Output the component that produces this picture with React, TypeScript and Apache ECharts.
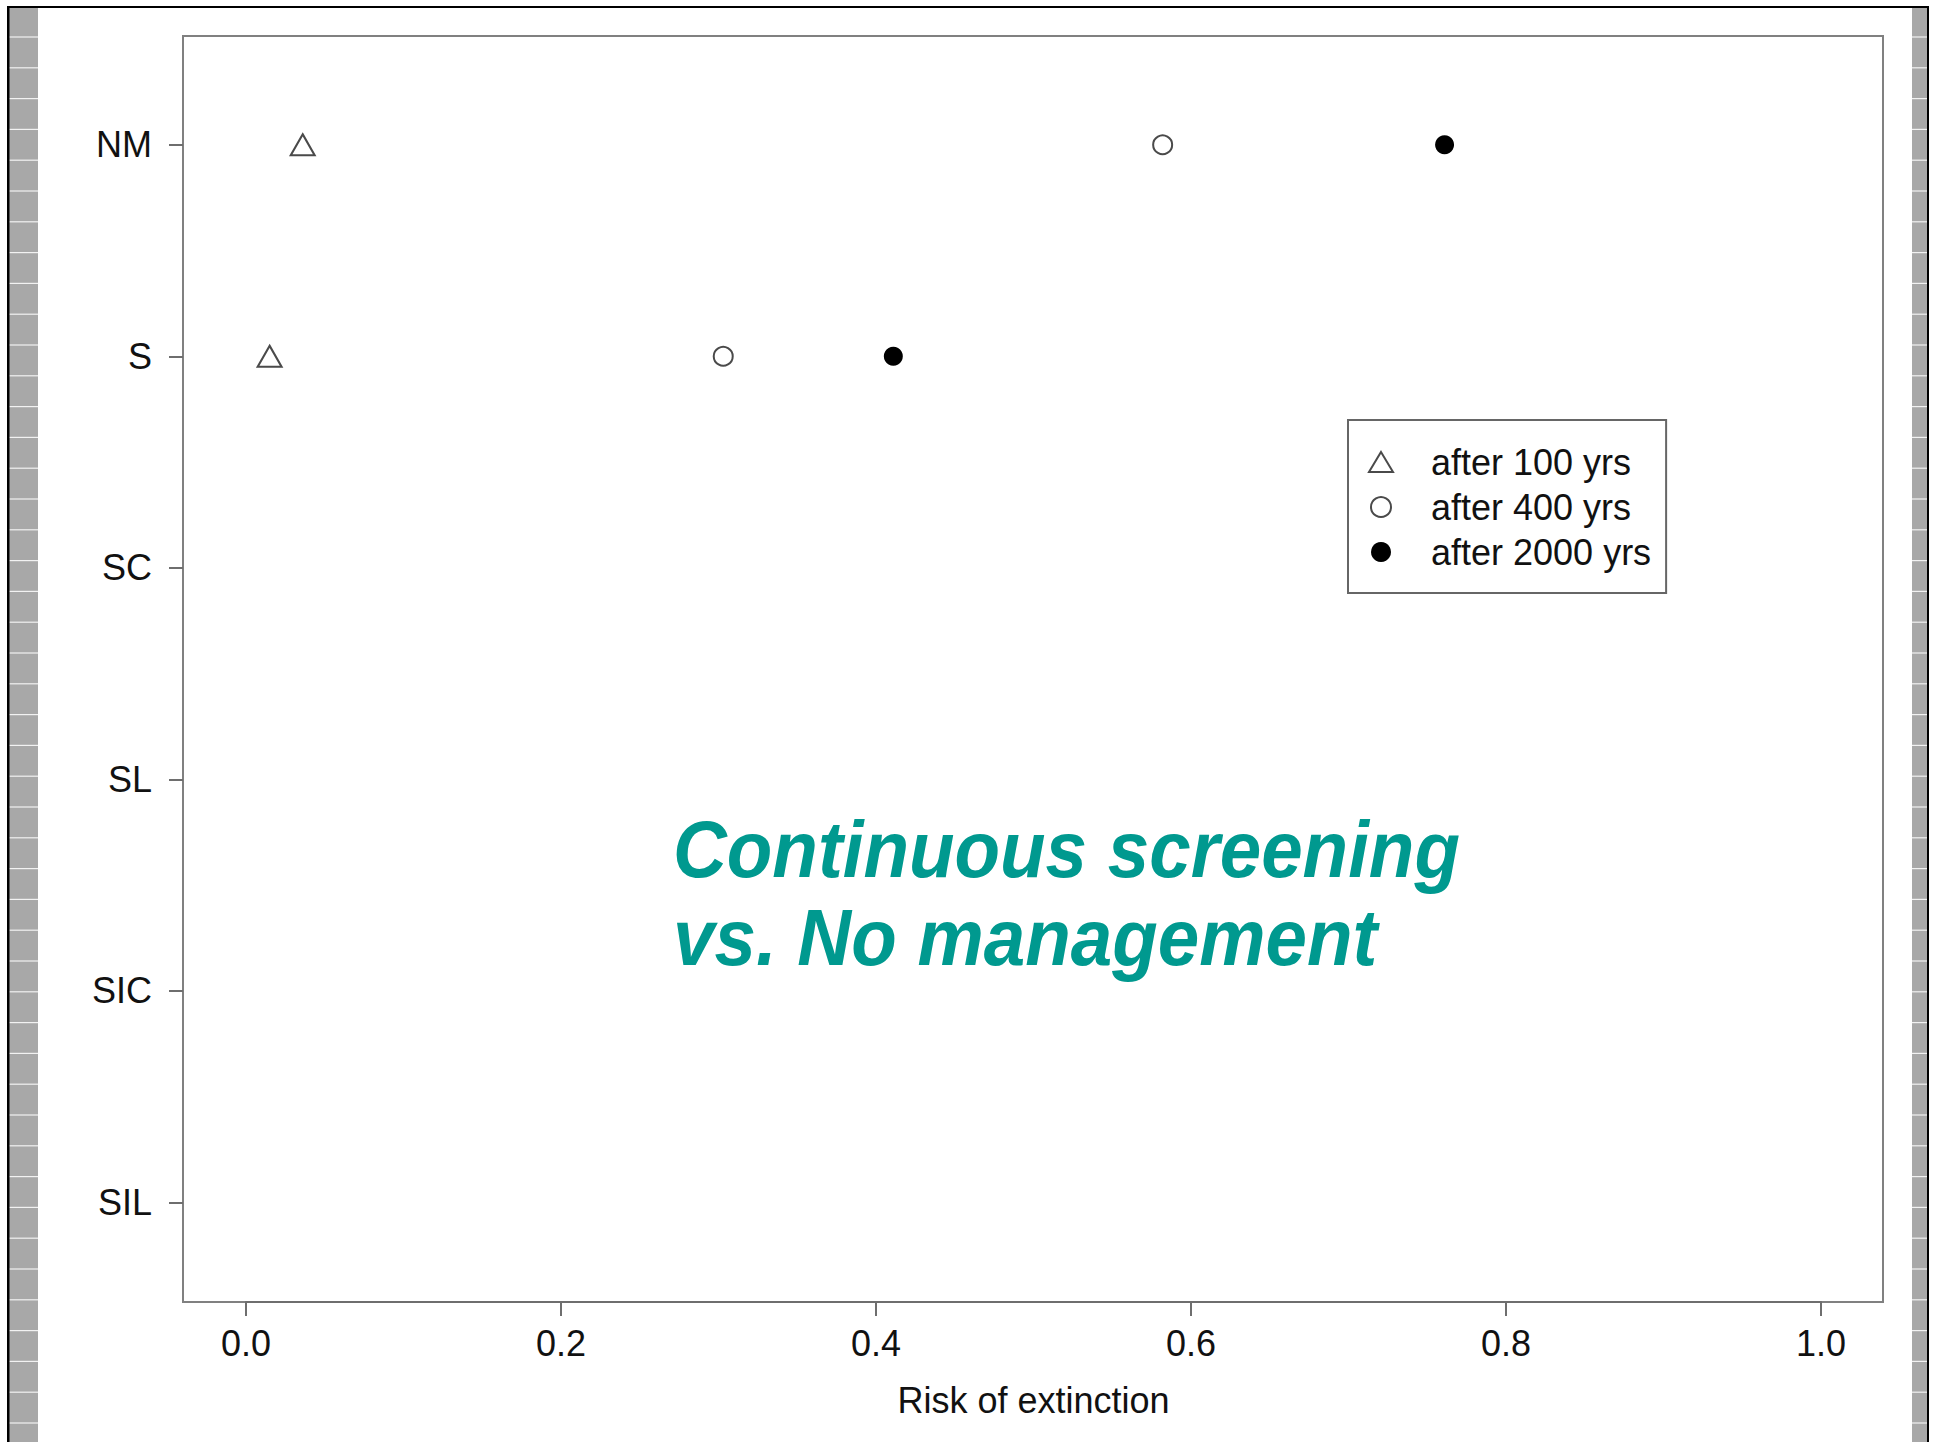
import React, { useEffect, useRef } from "react";
import * as echarts from "echarts";

// Management scenarios, top to bottom
const categories = ["NM", "S", "SC", "SL", "SIC", "SIL"];
// Scenarios that have simulated results
const scoredCategories = ["NM", "S"];
const seriesNames = ["after 100 yrs", "after 400 yrs", "after 2000 yrs"];
// Risk of extinction per scored scenario
const after100 = [0.036, 0.015];
const after400 = [0.582, 0.303];
const after2000 = [0.761, 0.411];
// Risk axis range and tick step
const riskMin = 0;
const riskMax = 1;
const riskStep = 0.2;
const titleLines = ["Continuous screening", "vs. No management"];
const axisName = "Risk of extinction";

const FONT = "'Liberation Sans', Arial, Helvetica, sans-serif";
const TEAL = "#00998f";

function toPoints(values: number[]) {
  return scoredCategories.map((c, i) => [values[i], c]);
}

function stripes(x: number, w: number) {
  const items: any[] = [
    { type: "rect", shape: { x, y: 7, width: w, height: 1440 }, style: { fill: "#a8a8a8" }, silent: true },
  ];
  for (let y = 37; y < 1442; y += 30.8) {
    items.push({
      type: "line",
      shape: { x1: x, y1: y, x2: x + w, y2: y },
      style: { stroke: "#f2f2f2", lineWidth: 1.2 },
      silent: true,
    });
  }
  return items;
}

export default function App() {
  const ref = useRef<HTMLDivElement>(null);

  useEffect(() => {
    if (!ref.current) return;
    const chart = echarts.init(ref.current, undefined, { renderer: "svg" });

    const hollow = { color: "#ffffff", borderColor: "#4a4a4a", borderWidth: 2, opacity: 1 };
    const solid = { color: "#000000", borderColor: "#000000", borderWidth: 0, opacity: 1 };

    chart.setOption({
      animation: false,
      backgroundColor: "#ffffff",
      grid: [
        // plotting region holding the axes
        { left: 246, top: 39, width: 1575, height: 1269, show: false },
        // plot frame
        {
          left: 183,
          top: 36,
          width: 1700,
          height: 1266,
          show: true,
          borderColor: "#808080",
          borderWidth: 2,
          backgroundColor: "transparent",
        },
      ],
      xAxis: [
        {
          type: "value",
          gridIndex: 0,
          min: riskMin,
          max: riskMax,
          interval: riskStep,
          offset: -6,
          splitLine: { show: false },
          axisLine: { show: true, onZero: false, lineStyle: { color: "#6e6e6e", width: 2 } },
          axisTick: { show: true, length: 14, lineStyle: { color: "#6e6e6e", width: 2 } },
          axisLabel: {
            margin: 23,
            fontSize: 36,
            color: "#111111",
            fontFamily: FONT,
            formatter: (v: number) => v.toFixed(1),
          },
          name: axisName,
          nameLocation: "middle",
          nameGap: 80,
          nameTextStyle: { fontSize: 36, color: "#111111", fontFamily: FONT },
        },
      ],
      yAxis: [
        {
          type: "category",
          gridIndex: 0,
          data: categories,
          inverse: true,
          offset: 63,
          boundaryGap: true,
          splitLine: { show: false },
          axisLine: { show: false, onZero: false },
          axisTick: { show: true, alignWithLabel: true, length: 14, lineStyle: { color: "#6e6e6e", width: 2 } },
          axisLabel: { margin: 31, fontSize: 36, color: "#111111", fontFamily: FONT },
        },
      ],
      legend: {
        orient: "vertical",
        left: 1348,
        top: 420,
        padding: [24, 15, 23, 20],
        itemGap: 9,
        itemWidth: 24,
        itemHeight: 20,
        borderColor: "#666666",
        borderWidth: 2,
        backgroundColor: "#ffffff",
        selectedMode: false,
        textStyle: { fontSize: 36, lineHeight: 36, color: "#111111", fontFamily: FONT, padding: [0, 0, 0, 33] },
        data: [
          { name: seriesNames[0], icon: "triangle", itemStyle: hollow },
          { name: seriesNames[1], icon: "circle", itemStyle: hollow },
          { name: seriesNames[2], icon: "circle", itemStyle: solid },
        ],
      },
      series: [
        {
          type: "scatter",
          name: seriesNames[0],
          symbol: "triangle",
          symbolSize: [24, 21],
          itemStyle: hollow,
          data: toPoints(after100),
        },
        {
          type: "scatter",
          name: seriesNames[1],
          symbol: "circle",
          symbolSize: 19,
          itemStyle: hollow,
          data: toPoints(after400),
        },
        {
          type: "scatter",
          name: seriesNames[2],
          symbol: "circle",
          symbolSize: 19,
          itemStyle: solid,
          data: toPoints(after2000),
        },
      ],
      graphic: [
        ...stripes(9, 29),
        ...stripes(1912, 15),
        { type: "rect", shape: { x: 7, y: 6, width: 1922, height: 2 }, style: { fill: "#000000" }, silent: true },
        { type: "rect", shape: { x: 7, y: 6, width: 2.5, height: 1436 }, style: { fill: "#000000" }, silent: true },
        { type: "rect", shape: { x: 1927, y: 6, width: 2, height: 1436 }, style: { fill: "#000000" }, silent: true },
        {
          type: "text",
          x: 673,
          y: 849,
          scaleX: 0.932,
          style: { text: titleLines[0], font: `italic bold 80px ${FONT}`, fill: TEAL, verticalAlign: "middle" },
          silent: true,
        },
        {
          type: "text",
          x: 673,
          y: 937,
          scaleX: 0.932,
          style: { text: titleLines[1], font: `italic bold 80px ${FONT}`, fill: TEAL, verticalAlign: "middle" },
          silent: true,
        },
      ],
    });

    return () => chart.dispose();
  }, []);

  return (
    <div
      ref={ref}
      style={{ position: "fixed", left: 0, top: 0, width: 1937, height: 1442, background: "#ffffff" }}
    />
  );
}
